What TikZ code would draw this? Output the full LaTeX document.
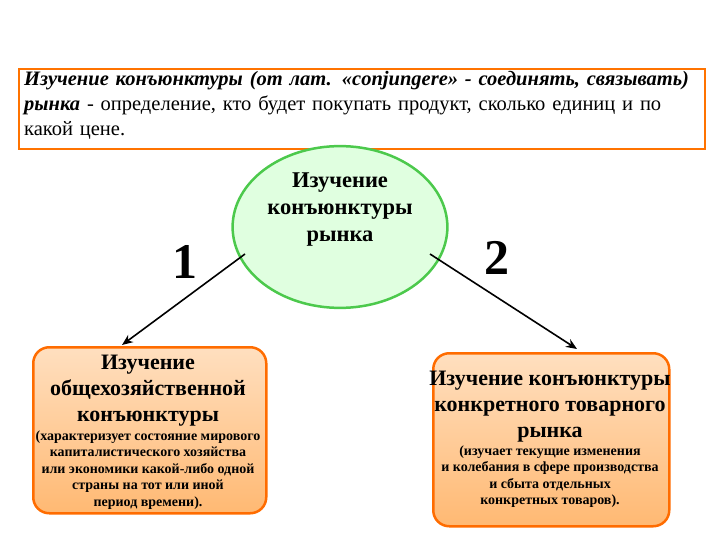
\documentclass[tikz,border=0pt]{standalone}
\usepackage{fontspec}
\setmainfont{Liberation Serif}
\usetikzlibrary{shapes.geometric,arrows.meta}
\begin{document}
\begin{tikzpicture}[x=1pt,y=-1pt,
 obox/.style={draw=orange!85!red,line width=2.5pt,rounded corners=16pt,top color=orange!25,bottom color=orange!55,
   minimum width=233pt,align=center,inner sep=3pt},
 arr/.style={-{Stealth[length=11pt,width=9pt]},line width=1.6pt}]
\useasboundingbox (0,0) rectangle (720,540);
\node[draw=orange!90!red,line width=1.8pt,minimum width=686pt,minimum height=80pt,anchor=north west,inner sep=0pt] (top) at (18,68) {};
\node[anchor=north west,text width=676pt,align=left,font=\fontsize{20.5}{25}\selectfont,inner sep=0pt] (toptxt) at (24,71)
 {\textit{\bfseries Изучение конъюнктуры (от лат. «conjungere» - соединять, связывать) рынка} - определение, кто будет покупать продукт, сколько единиц и по какой цене.};
\node[ellipse,draw=green!70!black!70,line width=2.5pt,fill=green!12,minimum width=190pt,minimum height=136pt,align=center,
 font=\fontsize{22.5}{27}\selectfont\bfseries] (ell) at (340,227) {Изучение\\конъюнктуры\\рынка\\[12pt]};
\node[font=\fontsize{50}{50}\selectfont\bfseries] (n1) at (185,262) {1};
\node[font=\fontsize{50}{50}\selectfont\bfseries] (n2) at (497,258) {2};
\node[obox,minimum height=166pt,anchor=north west] (L) at (32,346) {};
\node[anchor=north,align=center,font=\fontsize{22}{26}\selectfont\bfseries] (Lt) at (148,352) {Изучение\\общехозяйственной\\конъюнктуры};
\node[anchor=north,align=center,font=\fontsize{14}{16.5}\selectfont\bfseries] (Ls) at (148,427) {(характеризует состояние мирового\\капиталистического хозяйства\\или экономики какой-либо одной\\страны на тот или иной\\период времени).};
\node[obox,minimum width=236pt,minimum height=173pt,anchor=north west] (R) at (432,352) {};
\node[anchor=north,align=center,font=\fontsize{22}{26}\selectfont\bfseries] (Rt) at (550,368) {Изучение конъюнктуры\\конкретного товарного\\рынка};
\node[anchor=north,align=center,font=\fontsize{14}{16.5}\selectfont\bfseries] (Rs) at (550,442) {(изучает текущие изменения\\и колебания в сфере производства\\и сбыта отдельных\\конкретных товаров).};
\coordinate (a1) at (245,254); \coordinate (b1) at (122,345);
\coordinate (a2) at (430,254); \coordinate (b2) at (577,349);
\draw[arr] (a1) -- (b1);
\draw[arr] (a2) -- (b2);
\end{tikzpicture}
\end{document}
